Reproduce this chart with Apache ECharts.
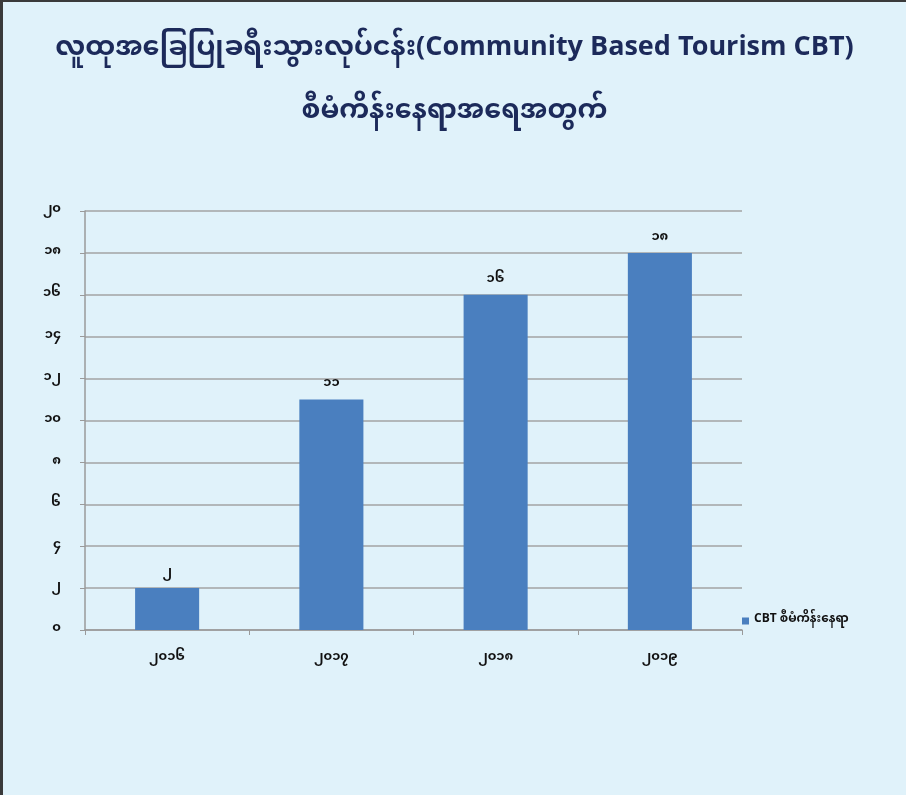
<!DOCTYPE html>
<html>
<head>
<meta charset="utf-8">
<script src="https://cdn.jsdelivr.net/npm/echarts@6/dist/echarts.min.js"></script>
<style>
  html, body { margin: 0; padding: 0; background: #e0f2fa; }
  #wrap { width: 906px; height: 795px; box-sizing: border-box; border-left: 3px solid #3a3a3a; border-top: 2px solid #3a3a3a; background: #e0f2fa; }
  #chart { width: 903px; height: 793px; }
</style>
</head>
<body>
<div id="wrap"><div id="chart"></div></div>
<script>
const titleLine1 = 'လူထုအခြေပြုခရီးသွားလုပ်ငန်း(Community Based Tourism CBT)';
const titleLine2 = 'စီမံကိန်းနေရာအရေအတွက်';
const categories = ['၂၀၁၆', '၂၀၁၇', '၂၀၁၈', '၂၀၁၉'];
const seriesName = 'CBT စီမံကိန်းနေရာ';
const values = [2, 11, 16, 18];
const barLabels = ['၂', '၁၁', '၁၆', '၁၈'];
const yTickValues = [0, 2, 4, 6, 8, 10, 12, 14, 16, 18, 20];
const yTickLabels = ['၀', '၂', '၄', '၆', '၈', '၁၀', '၁၂', '၁၄', '၁၆', '၁၈', '၂၀'];

const FONT = '"Noto Sans Myanmar", "Padauk", "Myanmar Text", "Noto Sans", "DejaVu Sans", sans-serif';
const chart = echarts.init(document.getElementById('chart'));
chart.setOption({
  backgroundColor: '#e0f2fa',
  textStyle: { fontFamily: FONT },
  title: [
    { text: titleLine1, left: 'center', top: 32,
      textStyle: { fontSize: 27, fontWeight: 'bold', color: '#1c2a5a', fontFamily: FONT } },
    { text: titleLine2, left: 'center', top: 95,
      textStyle: { fontSize: 27, fontWeight: 'bold', color: '#1c2a5a', fontFamily: FONT } }
  ],
  legend: {
    data: [seriesName], left: 734, top: 608, orient: 'vertical',
    icon: 'rect', itemWidth: 7, itemHeight: 7, itemGap: 4,
    textStyle: { fontSize: 12, color: '#111', fontWeight: 'bold', fontFamily: FONT }
  },
  grid: { left: 82, right: 164, top: 209, bottom: 165, containLabel: false },
  xAxis: {
    type: 'category', data: categories,
    axisLine: { lineStyle: { color: '#9a9a9a', width: 1.5 } },
    axisTick: { show: true, length: 5, alignWithLabel: false, lineStyle: { color: '#9a9a9a' } },
    axisLabel: { margin: 22, fontSize: 13, color: '#111', fontWeight: 'bold', fontFamily: FONT }
  },
  yAxis: {
    type: 'value', min: 0, max: 20, interval: 2,
    axisLine: { show: true, lineStyle: { color: '#9a9a9a', width: 1.5 } },
    axisTick: { show: true, length: 5, inside: false, lineStyle: { color: '#9a9a9a' } },
    splitLine: { lineStyle: { color: '#a3a3a3', width: 1.5 } },
    axisLabel: {
      margin: 24, fontSize: 13, color: '#111', fontWeight: 'bold', fontFamily: FONT,
      formatter: v => yTickLabels[yTickValues.indexOf(v)]
    }
  },
  series: [{
    name: seriesName, type: 'bar', data: values, barWidth: '39%',
    itemStyle: { color: '#4a7fbf' },
    label: { show: true, position: 'top', distance: 8, fontSize: 13, color: '#111', fontWeight: 'bold', fontFamily: FONT,
      formatter: p => barLabels[p.dataIndex] }
  }]
});
</script>
</body>
</html>
